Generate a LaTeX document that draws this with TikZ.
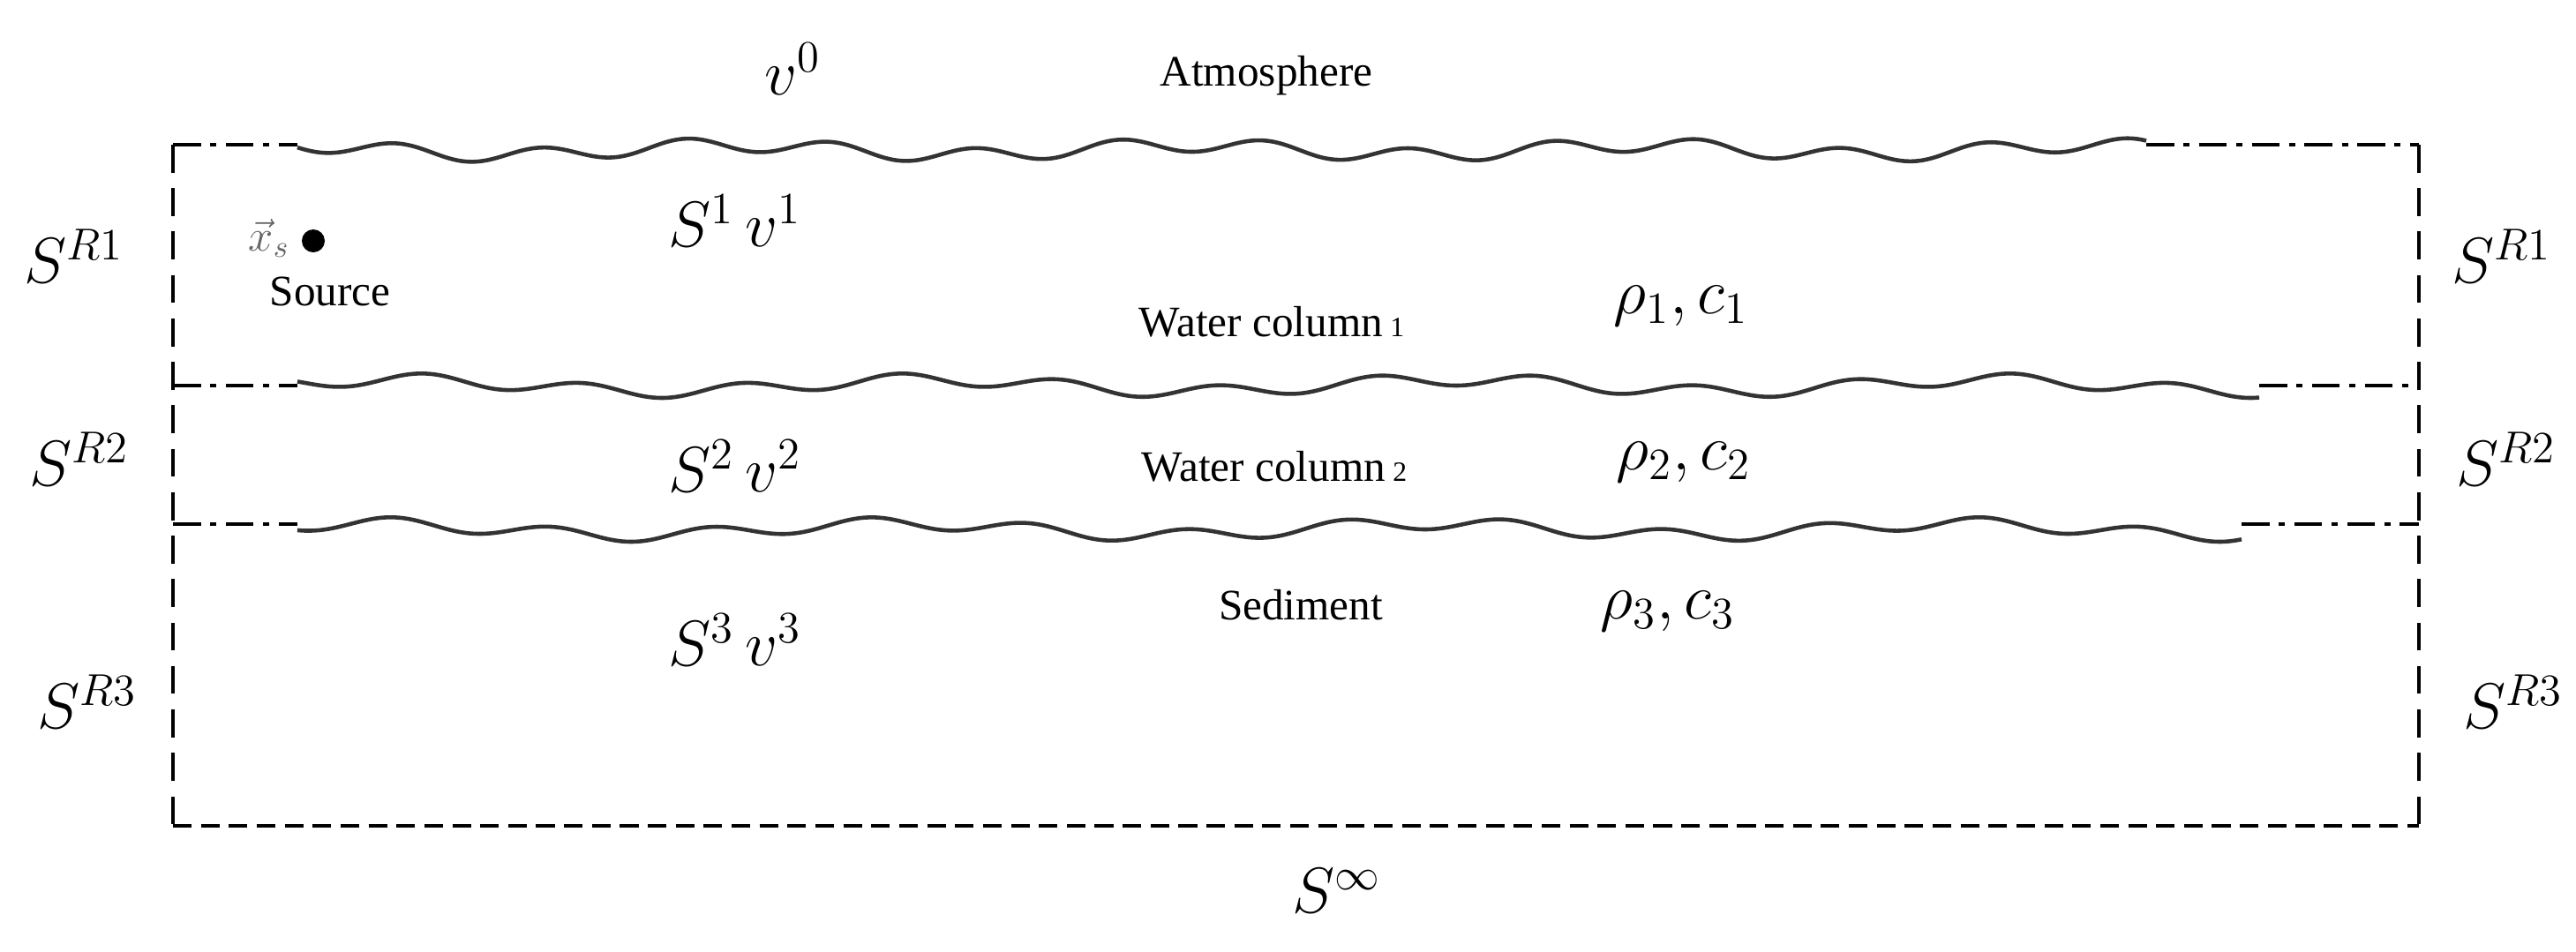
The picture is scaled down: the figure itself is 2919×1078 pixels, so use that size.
\documentclass[tikz,border=0pt]{standalone}
\usepackage{fontspec}
\setmainfont{Liberation Serif}
\begin{document}
\begin{tikzpicture}[x=0.01cm,y=-0.01cm,
  bnd/.style={line width=1.1pt,dash pattern=on 9pt off 3pt on 2pt off 3pt},
  bot/.style={line width=1.3pt,dash pattern=on 6pt off 3pt},
  side/.style={line width=1pt,dash pattern=on 9pt off 5pt},
  wave/.style={line width=1.3pt,draw=black!80},
  mth/.style={font=\fontsize{21}{24}\selectfont},
  txt/.style={font=\fontsize{14}{16}\selectfont}]
\useasboundingbox (0,0) rectangle (2919,1078);
% box
\coordinate (tl) at (196,164); \coordinate (tr) at (2741,164);
\coordinate (bl) at (196,936); \coordinate (br) at (2741,936);
\draw[side] (tl) -- (bl);
\draw[side] (tr) -- (br);
\draw[bot] (bl) -- (br);
\draw[bnd] (tl) -- (337,164);
\draw[bnd] (2432,164) -- (tr);
\draw[bnd] (196,437) -- (337,437);
\draw[bnd] (2560,437) -- (2741,437);
\draw[bnd] (196,594) -- (337,594);
\draw[bnd] (2540,594) -- (2741,594);
\draw[wave] plot[domain=337:2432,samples=300,smooth] (\x,{170+8*sin(\x*2.2)+6*sin(\x*0.7+50)});
\draw[wave] plot[domain=337:2560,samples=300,smooth] (\x,{437+7*sin(\x*2.0+30)+7*sin(\x*0.6)});
\draw[wave] plot[domain=337:2540,samples=300,smooth] (\x,{600+7*sin(\x*2.0+100)+7*sin(\x*0.6+20)});
% labels
\node[mth] (v0) at (898,78) {$v^0$};
\node[txt] (atm) at (1435,86) {Atmosphere};
\node[mth] (s1) at (833,250) {$S^1\,v^1$};
\fill (355,273) circle (13);
\node[txt,text=black!60] (xs) at (305,270) {$\vec{x}_s$};
\node[txt] (src) at (374,330) {Source};
\node[txt] (wc1) at (1441,365) {Water column\,{\small 1}};
\node[mth] (r1) at (1905,347) {$\rho_1,c_1$};
\node[mth] (sr1l) at (84,290) {$S^{R1}$};
\node[mth] (sr1r) at (2835,290) {$S^{R1}$};
\node[mth] (sr2l) at (90,520) {$S^{R2}$};
\node[mth] (sr2r) at (2840,520) {$S^{R2}$};
\node[mth] (s2) at (833,528) {$S^2\,v^2$};
\node[txt] (wc2) at (1444,529) {Water column\,{\small 2}};
\node[mth] (r2) at (1908,524) {$\rho_2,c_2$};
\node[txt] (sed) at (1474,686) {Sediment};
\node[mth] (r3) at (1890,693) {$\rho_3,c_3$};
\node[mth] (s3) at (833,725) {$S^3\,v^3$};
\node[mth] (sr3l) at (99,795) {$S^{R3}$};
\node[mth] (sr3r) at (2848,795) {$S^{R3}$};
\node[mth] (sinf) at (1515,1010) {$S^\infty$};
\end{tikzpicture}
\end{document}
